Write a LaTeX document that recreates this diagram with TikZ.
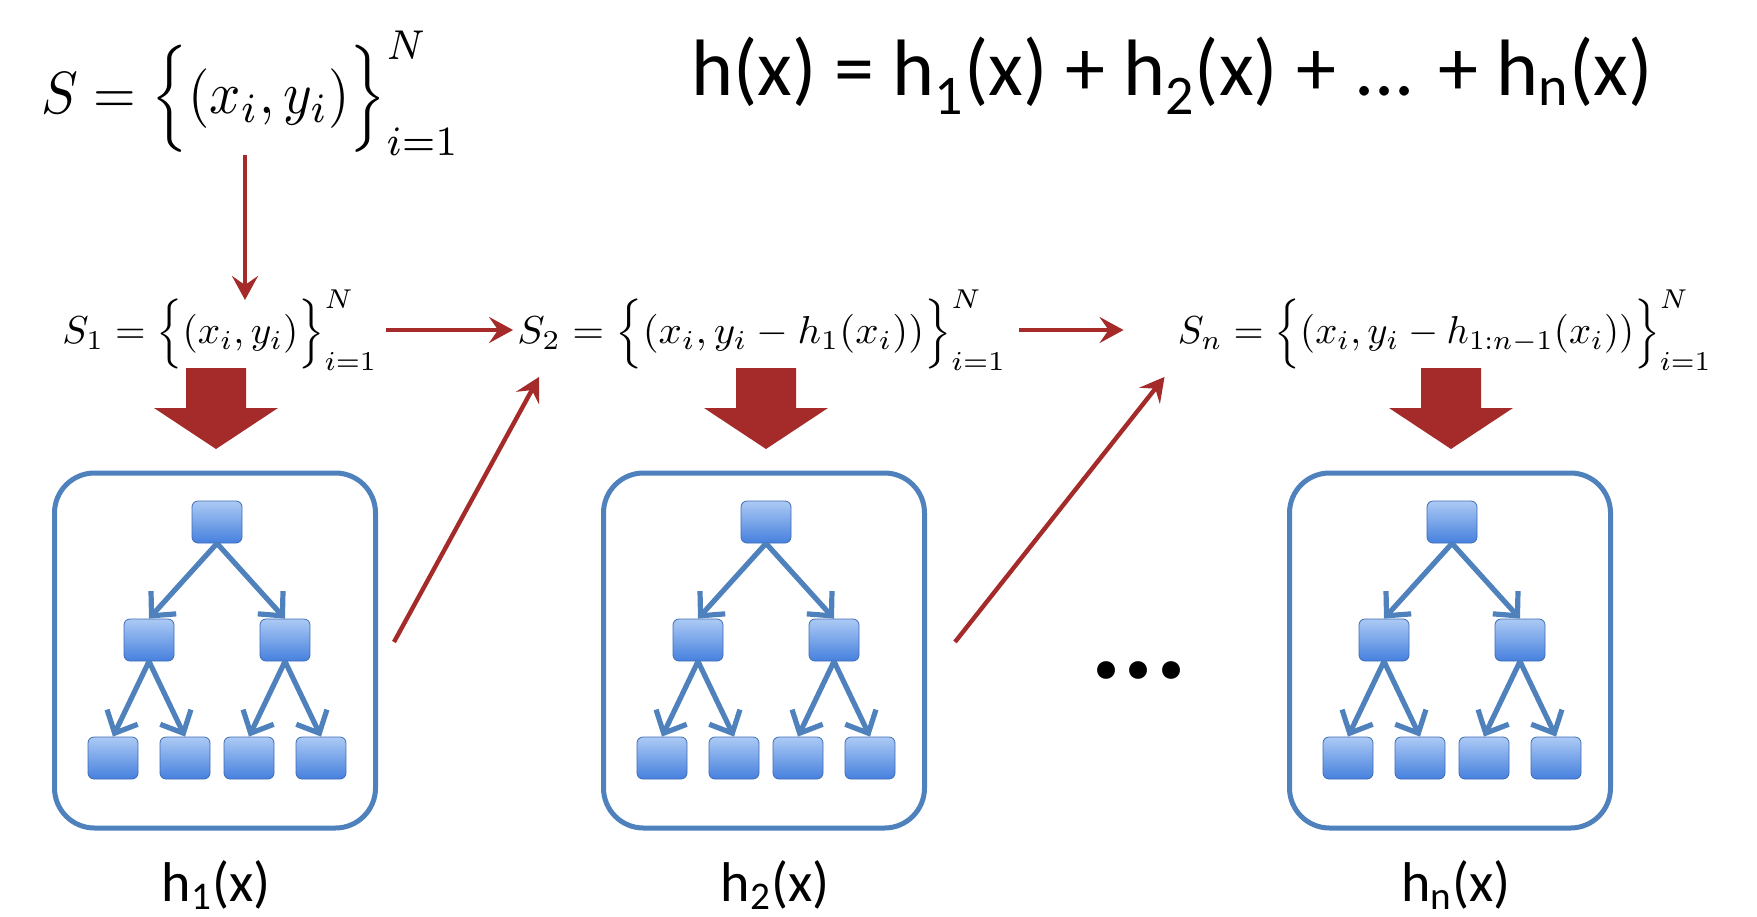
\documentclass[tikz,border=0pt]{standalone}
\usepackage{amsmath}
\usepackage{fontspec}
\setmainfont{Carlito}
\usepackage{tikz}
\usetikzlibrary{arrows.meta, positioning}
\definecolor{darkred}{RGB}{165,42,42}
\definecolor{boxblue}{RGB}{79,129,189}
\definecolor{nodetop}{RGB}{172,202,244}
\definecolor{nodebot}{RGB}{70,128,222}
\definecolor{nodeline}{RGB}{62,108,180}
\newcommand{\fitmath}[3]{\resizebox*{#1}{#2}{$#3$}}
\begin{document}
\begin{tikzpicture}[x=0.5pt, y=-0.5pt, >={Stealth[length=12pt, width=13pt, inset=4.5pt]}, node distance=59pt and 34pt, on grid]
      \tikzstyle{every node}=[inner sep=0pt]
      \tikzstyle{treebox}=[draw=boxblue, line width=2.5pt, rounded corners=20pt, minimum width=160.5pt, minimum height=177.5pt]
      \tikzstyle{leaf}=[draw=nodeline, line width=0.4pt, rounded corners=3pt, top color=nodetop, bottom color=nodebot, minimum width=25pt, minimum height=21pt]
      \tikzstyle{treearrow}=[-{Straight Barb[length=9pt, width=17pt]}, draw=boxblue, line width=2.6pt]
      \tikzstyle{thinarrow}=[->, draw=darkred, fill=darkred, line width=2.2pt]
      \tikzstyle{hlabel}=[font=\fontsize{28}{32}\selectfont]
      \useasboundingbox (0,0) rectangle (1757,916);
      % training sets
      \node (S) at (251,93) {\fitmath{209pt}{62pt}{S=\Bigl\{(x_i,y_i)\Bigr\}_{i=1}^{N}}};
      \node[font=\fontsize{40}{48}\selectfont] (H) at (1172,76) {h(x) = h\textsubscript{1}(x) + h\textsubscript{2}(x) + ... + h\textsubscript{n}(x)};
      \node (S1) at (220,330) {\fitmath{157.5pt}{40.5pt}{S_1=\Bigl\{(x_i,y_i)\Bigr\}_{i=1}^{N}}};
      \node (S2) at (762,330) {\fitmath{244.5pt}{40.5pt}{S_2=\Bigl\{(x_i,y_i-h_1(x_i))\Bigr\}_{i=1}^{N}}};
      \node (Sn) at (1445,330) {\fitmath{267pt}{40.5pt}{S_n=\Bigl\{(x_i,y_i-h_{1:n-1}(x_i))\Bigr\}_{i=1}^{N}}};
      \coordinate (v) at (245,300);
      \coordinate (t1) at (394,642);
      \coordinate (t2) at (955,642);
      \draw[thinarrow] (S.south -| v) -- (v);
      \draw[thinarrow, shorten <=4pt, shorten >=2pt] (S1.east) -- (S2.west);
      \draw[thinarrow, shorten <=6pt, shorten >=27pt] (S2.east) -- (Sn.west);
      \draw[thinarrow] (t1) -- ([shift={(22,6)}]S2.south west);
      \draw[thinarrow] (t2) -- ([shift={(-13,6)}]Sn.south west);
      % trees
      \foreach \k/\cx/\ax/\lx in {1/215/216/216, 2/764/766/775, n/1450/1451/1456} {
        \fill[darkred] ({\ax-30},368) -- ({\ax+30},368) -- ({\ax+30},408) -- ({\ax+62},408)
          -- (\ax,449) -- ({\ax-62},408) -- ({\ax-30},408) -- cycle;
        \node[treebox] (box\k) at (\cx,650.5) {};
        \node[leaf] (r\k) at ({\cx+2},522) {};
        \node[leaf] (a\k) [below left=of r\k] {};
        \node[leaf] (b\k) [below right=of r\k] {};
        \node[leaf] (a\k1) [below left=59pt and 18pt of a\k] {};
        \node[leaf] (a\k2) [below right=59pt and 18pt of a\k] {};
        \node[leaf] (b\k1) [below left=59pt and 18pt of b\k] {};
        \node[leaf] (b\k2) [below right=59pt and 18pt of b\k] {};
        \draw[treearrow] (r\k.south) -- (a\k.north);
        \draw[treearrow] (r\k.south) -- (b\k.north);
        \draw[treearrow] (a\k.south) -- (a\k1.north);
        \draw[treearrow] (a\k.south) -- (a\k2.north);
        \draw[treearrow] (b\k.south) -- (b\k1.north);
        \draw[treearrow] (b\k.south) -- (b\k2.north);
        \node[hlabel] (h\k) at (\lx,885) {h\textsubscript{\k}(x)};
      }
      \node[font=\fontsize{60}{60}\selectfont\bfseries] (dots) at (1139,670) {...};
    \end{tikzpicture}
\end{document}
